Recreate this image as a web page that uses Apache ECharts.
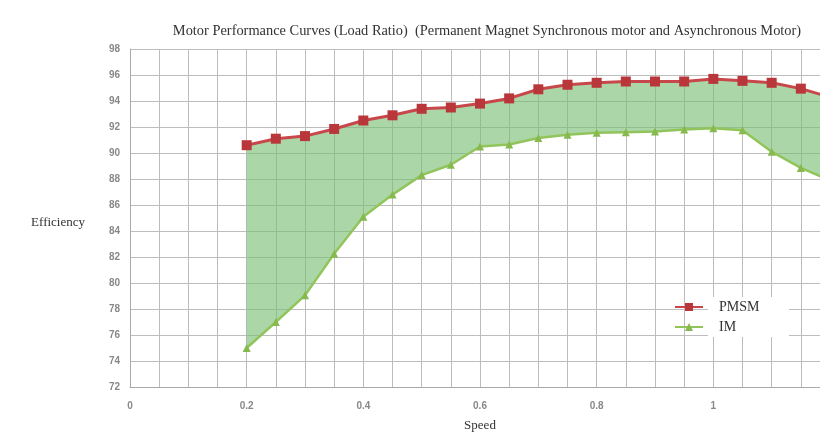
<!DOCTYPE html>
<html>
<head>
<meta charset="utf-8">
<script src="https://cdn.jsdelivr.net/npm/echarts@6/dist/echarts.min.js"></script>
<style>
  html, body { margin: 0; padding: 0; background: #fff; }
  #chart { width: 820px; height: 433px; }
</style>
</head>
<body>
<div id="chart"></div>
<script>
// load ratio (speed)
const speed = [0.2, 0.25, 0.3, 0.35, 0.4, 0.45, 0.5, 0.55, 0.6, 0.65, 0.7, 0.75,
               0.8, 0.85, 0.9, 0.95, 1.0, 1.05, 1.1, 1.15, 1.2];
// efficiency values
const pmsm = [90.6, 91.1, 91.3, 91.85, 92.5, 92.9, 93.4, 93.5, 93.8, 94.2, 94.9, 95.25,
              95.4, 95.5, 95.5, 95.5, 95.7, 95.55, 95.4, 94.95, 94.3];
const im = [75.0, 77.0, 79.05, 82.25, 85.1, 86.8, 88.3, 89.1, 90.5, 90.65, 91.15, 91.4,
            91.55, 91.6, 91.65, 91.8, 91.9, 91.75, 90.1, 88.85, 87.9];
const yTicks = {min: 72, max: 98, step: 2};

const pair = (xs, ys) => xs.map((x, i) => [x, ys[i]]);

const chart = echarts.init(document.getElementById('chart'));
const serif = '"Liberation Serif", "DejaVu Serif", serif';
const gridColor = '#bdbdbd';

// green band between the two curves
function renderBand(params, api) {
    let pts = [];
    for (let i = 0; i < speed.length; i++) {
        pts.push(api.coord([speed[i], pmsm[i]]));
    }
    for (let i = speed.length - 1; i >= 0; i--) {
        pts.push(api.coord([speed[i], im[i]]));
    }
    return {
        type: 'polygon',
        shape: { points: pts },
        style: { fill: 'rgba(120, 190, 115, 0.62)' }
    };
}

chart.setOption({
    animation: false,
    title: {
        text: 'Motor Performance Curves (Load Ratio)  (Permanent Magnet Synchronous motor and Asynchronous Motor)',
        left: 482,
        top: 19,
        textAlign: 'center',
        textStyle: { fontFamily: serif, fontSize: 14.4, fontWeight: 'normal', color: '#333' }
    },
    grid: { left: 130, top: 49, width: 700, bottom: 46, outerBoundsMode: 'none' },
    legend: {
        orient: 'vertical',
        left: 674,
        top: 297,
        padding: 0,
        itemWidth: 28,
        itemHeight: 10,
        itemGap: 0,
        data: ['PMSM', 'IM'],
        textStyle: {
            fontFamily: serif, fontSize: 14, color: '#333',
            backgroundColor: '#fff', width: 60, padding: [3, 10, 3, 11], lineHeight: 14
        }
    },
    xAxis: {
        type: 'value',
        min: 0,
        max: 1.2,
        interval: 0.2,
        name: 'Speed',
        nameLocation: 'middle',
        nameGap: 32,
        nameTextStyle: { fontFamily: serif, fontSize: 13, color: '#333' },
        axisLine: { lineStyle: { color: '#aaa' } },
        axisTick: { show: false },
        axisLabel: { color: '#888', fontSize: 10, fontWeight: 'bold', margin: 14 },
        splitLine: { lineStyle: { color: gridColor } },
        minorTick: { show: false, splitNumber: 4 },
        minorSplitLine: { show: true, lineStyle: { color: gridColor } }
    },
    yAxis: {
        type: 'value',
        min: yTicks.min,
        max: yTicks.max,
        interval: yTicks.step,
        name: 'Efficiency',
        nameLocation: 'middle',
        nameRotate: 0,
        nameGap: 45,
        nameTextStyle: { fontFamily: serif, fontSize: 13, color: '#333', verticalAlign: 'top', lineHeight: 10 },
        axisLine: { show: true, lineStyle: { color: '#aaa' } },
        axisTick: { show: false },
        axisLabel: { color: '#888', fontSize: 10, fontWeight: 'bold', margin: 10 },
        splitLine: { lineStyle: { color: gridColor } }
    },
    series: [
        {
            name: 'band',
            type: 'custom',
            renderItem: renderBand,
            data: [[speed[0], pmsm[0]]],
            silent: true,
            z: 2
        },
        {
            name: 'PMSM',
            type: 'line',
            data: pair(speed, pmsm),
            symbol: 'rect',
            symbolSize: 10,
            color: '#b9373a',
            lineStyle: { color: '#c8474a', width: 3 },
            itemStyle: { color: '#b9373a' },
            z: 5
        },
        {
            name: 'IM',
            type: 'line',
            data: pair(speed, im),
            symbol: 'triangle',
            symbolSize: 8,
            color: '#8dbf55',
            lineStyle: { color: '#92c45c', width: 2.5 },
            itemStyle: { color: '#86b94e' },
            z: 5
        }
    ]
});
</script>
</body>
</html>
